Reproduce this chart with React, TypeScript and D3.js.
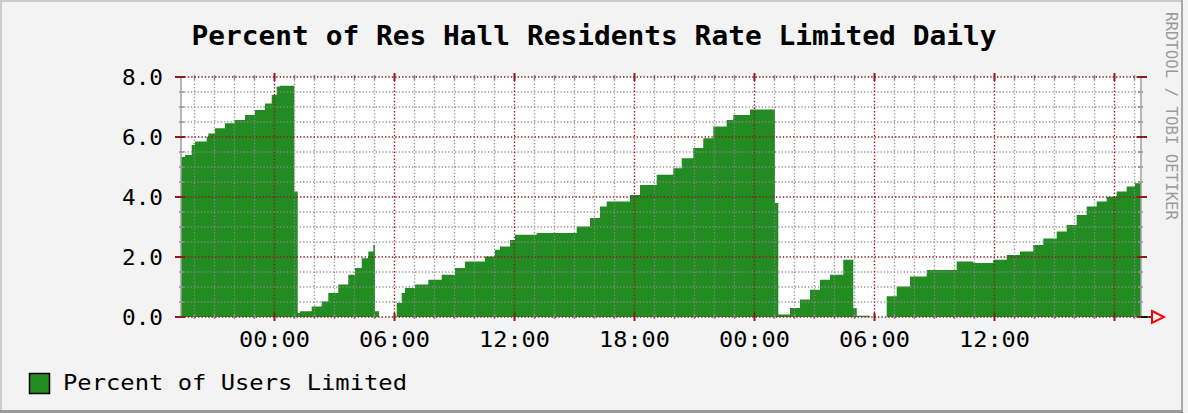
import React from "react";
import * as d3 from "d3";

// hours relative to first midnight shown
const hours = [
  -4.675, -4.475, -4.14, -3.975, -3.39, -3.31, -2.975, -2.475, -1.975, -1.475, -0.975, -0.475, -0.14, 0.11, 0.275,
  0.99, 1.16, 1.275, 1.86, 2.36, 2.69, 3.19, 3.69, 4.025, 4.36, 4.69, 4.94, 5.025, 5.225,
  6.11, 6.36, 6.525, 7.025, 7.69, 8.36, 9.025, 9.525, 10.525, 11.025,
  11.275, 11.775, 12.025, 13.11, 15.11, 15.775, 16.275, 16.61, 17.775, 18.275, 19.11, 19.94, 20.36, 20.94,
  21.44, 21.94, 22.61, 22.94, 23.775, 25.025, 25.19, 25.775, 26.275, 26.775, 27.275,
  27.775, 28.44, 28.94, 29.11, 29.775, 30.61, 31.11, 31.775, 32.61, 34.11, 34.94, 35.94, 36.61, 37.275,
  37.94, 38.44, 39.11, 39.61, 40.11, 40.61, 41.11, 41.61, 42.11, 42.61, 43.025, 43.325,
];
const values = [
  5.33, 5.4, 5.73, 5.85, 6.01, 6.12, 6.29, 6.46, 6.57, 6.73, 6.9, 7.12, 7.4, 7.68, 7.71,
  4.18, 0.13, 0.19, 0.35, 0.52, 0.8, 1.08, 1.41, 1.63, 1.96, 2.18, 2.41, 0.19, 0,
  0.47, 0.8, 0.97, 1.08, 1.24, 1.41, 1.63, 1.85, 2.02, 2.24,
  2.35, 2.57, 2.74, 2.8, 3.02, 3.3, 3.68, 3.85, 4.07, 4.4, 4.74, 4.96, 5.29, 5.63,
  5.96, 6.35, 6.57, 6.73, 6.92, 3.8, 0.08, 0.3, 0.58, 0.91, 1.24,
  1.41, 1.91, 0.3, 0.04, 0, 0.69, 1.02, 1.35, 1.57, 1.85, 1.8, 1.91, 2.07, 2.18,
  2.4, 2.62, 2.85, 3.07, 3.4, 3.68, 3.85, 4.01, 4.18, 4.35, 4.46, 4.46,
];

const xMajorHours = [0, 6, 12, 18, 24, 30, 36, 42];
const xLabels = ["00:00", "06:00", "12:00", "18:00", "00:00", "06:00", "12:00", ""];
const yMajor = [0, 2, 4, 6, 8];
const yLabels = ["0.0", "2.0", "4.0", "6.0", "8.0"];

const title = "Percent of Res Hall Residents Rate Limited Daily";
const legendLabel = "Percent of Users Limited";
const watermark = "RRDTOOL / TOBI OETIKER";

const W = 1188;
const H = 413;
const MONO = "'DejaVu Sans Mono', 'Liberation Mono', monospace";
const GREEN = "#228b22";
const MGRID = "#8a1e1e";
const GRID = "#8c8c8c";

export default function App() {
  const x = d3.scaleLinear().domain([-4.675, 43.325]).range([181, 1141]);
  const y = d3.scaleLinear().domain([0, 8]).range([317, 77]);

  const data = hours.map((h, i) => ({ h, v: values[i] }));
  const area = d3
    .area<{ h: number; v: number }>()
    .x((d) => x(d.h))
    .y0(y(0))
    .y1((d) => y(d.v))
    .curve(d3.curveStepAfter);

  const minorX = d3.range(-4, 44, 1).filter((h) => h % 6 !== 0);
  const minorY = d3.range(0.5, 8, 0.5).filter((v) => v % 2 !== 0);
  const [x0, x1] = x.range();
  const [yb, yt] = y.range();

  return (
    <svg
      width={W}
      height={H}
      style={{ position: "absolute", left: 0, top: 0, display: "block" }}
      xmlns="http://www.w3.org/2000/svg"
    >
      <rect x={0} y={0} width={W} height={H} fill="#f3f3f3" />
      {/* frame shading */}
      <rect x={0} y={0} width={1183} height={2} fill="#cbcbcb" />
      <rect x={0} y={0} width={2} height={413} fill="#cbcbcb" />
      <rect x={1181} y={0} width={2} height={413} fill="#a8a8a8" />
      <rect x={0} y={410} width={1183} height={3} fill="#9a9a9a" />

      {/* title */}
      <text
        x={594}
        y={45}
        textAnchor="middle"
        fontFamily={MONO}
        fontWeight="bold"
        fontSize={27}
        textLength={805}
        lengthAdjust="spacingAndGlyphs"
        fill="#000"
      >
        {title}
      </text>

      {/* canvas */}
      <rect x={x0} y={yt} width={x1 - x0} height={yb - yt} fill="#ffffff" />

      {/* data area */}
      <path d={area(data) || ""} fill={GREEN} />

      {/* minor grid */}
      {minorX.map((h) => (
        <g key={"mx" + h}>
          <line x1={x(h)} x2={x(h)} y1={yt} y2={yb} stroke={GRID} strokeWidth={1.3} strokeDasharray="1.3,2" opacity={0.9} />
          <line x1={x(h)} x2={x(h)} y1={yt - 2} y2={yt + 3} stroke={GRID} strokeWidth={1.5} />
          <line x1={x(h)} x2={x(h)} y1={yb - 3} y2={yb + 2} stroke={GRID} strokeWidth={1.5} />
        </g>
      ))}
      {minorY.map((v) => (
        <g key={"my" + v}>
          <line x1={x0} x2={x1} y1={y(v)} y2={y(v)} stroke={GRID} strokeWidth={1.3} strokeDasharray="1.3,2" opacity={0.9} />
          <line x1={x0 - 2} x2={x0 + 3} y1={y(v)} y2={y(v)} stroke={GRID} strokeWidth={1.5} />
          <line x1={x1 - 3} x2={x1 + 2} y1={y(v)} y2={y(v)} stroke={GRID} strokeWidth={1.5} />
        </g>
      ))}

      {/* side axes */}
      <line x1={x0} x2={x0} y1={yt} y2={yb} stroke="#a0a0a0" strokeWidth={1.5} />
      <line x1={x1} x2={x1} y1={yt} y2={yb} stroke="#a0a0a0" strokeWidth={1.5} />

      {/* major grid */}
      {xMajorHours.map((h) => (
        <g key={"Mx" + h}>
          <line x1={x(h)} x2={x(h)} y1={yt} y2={yb} stroke={MGRID} strokeWidth={1.4} strokeDasharray="1.4,2" />
          <line x1={x(h)} x2={x(h)} y1={yt - 4} y2={yt + 4} stroke={MGRID} strokeWidth={2} />
          <line x1={x(h)} x2={x(h)} y1={yb - 4} y2={yb + 4} stroke={MGRID} strokeWidth={2} />
        </g>
      ))}
      {yMajor.map((v) => (
        <g key={"My" + v}>
          <line x1={x0} x2={x1} y1={y(v)} y2={y(v)} stroke={MGRID} strokeWidth={1.4} strokeDasharray="1.4,2" />
          <line x1={x0 - 6} x2={x0 + 4} y1={y(v)} y2={y(v)} stroke={MGRID} strokeWidth={2} />
          <line x1={x1 - 4} x2={x1 + 6} y1={y(v)} y2={y(v)} stroke={MGRID} strokeWidth={2} />
        </g>
      ))}

      {/* x axis + arrow */}
      <line x1={x1} x2={1152} y1={yb} y2={yb} stroke="#000" strokeWidth={1.5} />
      <path
        d={`M${1152},${yb - 6} L${1164},${yb} L${1152},${yb + 6} Z M${1152},${yb - 2.5} L${1152},${yb + 2.5}`}
        fill="none"
        stroke="#ff0000"
        strokeWidth={2}
      />

      {/* y labels */}
      {yMajor.map((v, i) => (
        <text
          key={"yl" + v}
          x={163}
          y={y(v) + 8}
          textAnchor="end"
          fontFamily={MONO}
          fontSize={22}
          textLength={41}
          lengthAdjust="spacingAndGlyphs"
          fill="#000"
        >
          {yLabels[i]}
        </text>
      ))}

      {/* x labels */}
      {xMajorHours.map((h, i) =>
        xLabels[i] ? (
          <text
            key={"xl" + i}
            x={x(h)}
            y={347}
            textAnchor="middle"
            fontFamily={MONO}
            fontSize={22}
            textLength={71}
            lengthAdjust="spacingAndGlyphs"
            fill="#000"
          >
            {xLabels[i]}
          </text>
        ) : null
      )}

      {/* legend */}
      <rect x={29.5} y={373.5} width={20} height={20} fill={GREEN} stroke="#000" strokeWidth={1.5} />
      <text
        x={63}
        y={390}
        fontFamily={MONO}
        fontSize={22}
        textLength={344}
        lengthAdjust="spacingAndGlyphs"
        fill="#000"
      >
        {legendLabel}
      </text>

      {/* watermark */}
      <text
        transform="translate(1166,12) rotate(90)"
        x={0}
        y={0}
        fontFamily={MONO}
        fontSize={15}
        textLength={208}
        lengthAdjust="spacingAndGlyphs"
        fill="#9a9a9a"
      >
        {watermark}
      </text>
    </svg>
  );
}
